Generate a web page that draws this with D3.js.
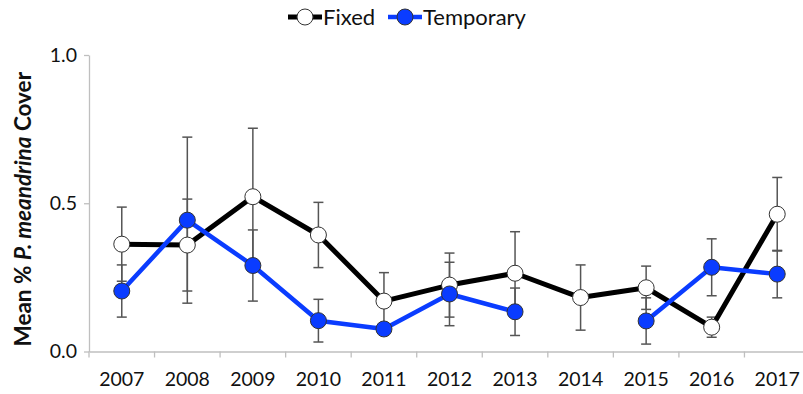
<!DOCTYPE html>
<html>
<head>
<meta charset="utf-8">
<script src="https://cdn.jsdelivr.net/npm/d3@7"></script>
<style>
  html, body { margin: 0; padding: 0; background: #fff; }
  svg { display: block; font-family: Lato, "Open Sans", sans-serif; }
</style>
</head>
<body>
<svg id="chart" width="803" height="394"></svg>
<script>
// Survey years
const years = ["2007","2008","2009","2010","2011","2012","2013","2014","2015","2016","2017"];

// Mean % cover and standard error, fixed plots
const fixedMean = [0.362, 0.359, 0.522, 0.393, 0.170, 0.224, 0.264, 0.182, 0.215, 0.082, 0.463];
const fixedErr  = [0.125, 0.155, 0.231, 0.110, 0.096, 0.108, 0.140, 0.110, 0.073, 0.034, 0.124];

// Mean % cover and standard error, temporary plots (no survey in 2014)
const tempMean = [0.204, 0.443, 0.290, 0.104, 0.076, 0.194, 0.134, null, 0.103, 0.284, 0.261];
const tempErr  = [0.088, 0.280, 0.120, 0.072, 0.020, 0.107, 0.080, null, 0.078, 0.096, 0.080];

const yTicks = [0, 0.5, 1.0];

const svg = d3.select("#chart");
const axisGrey = "#bfbfbf";
const barGrey = "#555";
const blue = "#0a3cff";

const x = d3.scaleBand().domain(years).range([89, 810]).padding(0);
const y = d3.scaleLinear().domain([0, 1]).range([351.5, 55]);
const cx = d => x(d) + x.bandwidth() / 2;

// y axis
const yAxis = svg.append("g")
  .attr("transform", "translate(89,0)")
  .call(d3.axisLeft(y).tickValues(yTicks).tickFormat(d3.format(".1f")).tickSize(5).tickPadding(7).tickSizeOuter(0));
yAxis.select(".domain").attr("stroke", axisGrey).attr("stroke-width", 1.3);
yAxis.selectAll(".tick line").attr("stroke", axisGrey).attr("stroke-width", 1.3);
yAxis.selectAll(".tick text").attr("font-size", 19.5).attr("fill", "#111")
  .attr("font-family", "Lato, sans-serif");

// x axis: labels centred in each band, ticks on band boundaries
const xAxis = svg.append("g")
  .attr("transform", `translate(0,${y(0)})`)
  .call(d3.axisBottom(x).tickSize(0).tickPadding(21).tickSizeOuter(0));
xAxis.select(".domain").attr("stroke", axisGrey).attr("stroke-width", 1.3);
xAxis.selectAll(".tick text").attr("font-size", 19.5).attr("fill", "#111")
  .attr("font-family", "Lato, sans-serif");
xAxis.selectAll("line.boundary")
  .data(years)
  .join("line")
  .attr("class", "boundary")
  .attr("x1", d => x(d)).attr("x2", d => x(d))
  .attr("y1", 0).attr("y2", 6)
  .attr("stroke", axisGrey).attr("stroke-width", 1.3);

// y axis title
const title = svg.append("text")
  .attr("transform", `translate(31,${(y(0) + y(1)) / 2 + 6}) rotate(-90)`)
  .attr("text-anchor", "middle")
  .attr("font-size", 22.5)
  .attr("font-weight", "bold")
  .attr("fill", "#111");
title.append("tspan").text("Mean % ");
title.append("tspan").attr("font-style", "italic").text("P. meandrina");
title.append("tspan").text(" Cover");

// error bars
function errorBars(means, errs, cls) {
  const data = years.map((yr, i) => ({ yr, m: means[i], e: errs[i] })).filter(d => d.m != null);
  const g = svg.append("g").attr("class", cls)
    .attr("stroke", barGrey).attr("stroke-width", 1.5);
  g.selectAll("line.v").data(data).join("line").attr("class", "v")
    .attr("x1", d => cx(d.yr)).attr("x2", d => cx(d.yr))
    .attr("y1", d => y(d.m - d.e)).attr("y2", d => y(d.m + d.e));
  g.selectAll("line.top").data(data).join("line").attr("class", "top")
    .attr("x1", d => cx(d.yr) - 5).attr("x2", d => cx(d.yr) + 5)
    .attr("y1", d => y(d.m + d.e)).attr("y2", d => y(d.m + d.e));
  g.selectAll("line.bot").data(data).join("line").attr("class", "bot")
    .attr("x1", d => cx(d.yr) - 5).attr("x2", d => cx(d.yr) + 5)
    .attr("y1", d => y(d.m - d.e)).attr("y2", d => y(d.m - d.e));
}
errorBars(fixedMean, fixedErr, "err-fixed");
errorBars(tempMean, tempErr, "err-temp");

// series lines and markers
function series(means, color, width, fill) {
  const data = years.map((yr, i) => ({ yr, m: means[i] }));
  const line = d3.line().defined(d => d.m != null).x(d => cx(d.yr)).y(d => y(d.m));
  svg.append("path").datum(data)
    .attr("d", line).attr("fill", "none")
    .attr("stroke", color).attr("stroke-width", width)
    .attr("stroke-linejoin", "round");
  svg.append("g").selectAll("circle").data(data.filter(d => d.m != null)).join("circle")
    .attr("cx", d => cx(d.yr)).attr("cy", d => y(d.m)).attr("r", 8)
    .attr("fill", fill).attr("stroke", "#333").attr("stroke-width", 1);
}
series(fixedMean, "#000", 5, "#fff");
series(tempMean, blue, 4.5, blue);

// legend
const legend = svg.append("g").attr("transform", "translate(0,17)");
const items = [
  { name: "Fixed", x0: 288, color: "#000", fill: "#fff", w: 5 },
  { name: "Temporary", x0: 388, color: blue, fill: blue, w: 4.5 }
];
items.forEach(it => {
  legend.append("line").attr("x1", it.x0).attr("x2", it.x0 + 34).attr("y1", 0).attr("y2", 0)
    .attr("stroke", it.color).attr("stroke-width", it.w);
  legend.append("circle").attr("cx", it.x0 + 17).attr("cy", 0).attr("r", 8)
    .attr("fill", it.fill).attr("stroke", "#333").attr("stroke-width", 1);
  legend.append("text").attr("x", it.x0 + 35).attr("y", 0).attr("dy", "0.35em")
    .attr("font-size", 22).attr("fill", "#111").text(it.name);
});
</script>
</body>
</html>
